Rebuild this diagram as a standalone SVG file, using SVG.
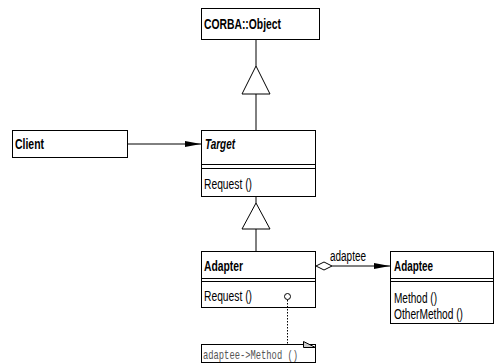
<svg xmlns="http://www.w3.org/2000/svg" width="494" height="364" viewBox="0 0 494 364">
<style>
.box{fill:#fff;stroke:#000;stroke-width:1}
.ln{fill:none;stroke:#000;stroke-width:1}
.t{font-family:"Liberation Sans",Arial,sans-serif;font-size:14px;fill:#000}
.b{font-weight:bold}
.i{font-style:italic}
.m{font-family:"Liberation Mono","Courier New",monospace;font-size:13px;fill:#555}
</style>
<defs>
<marker id="arr" viewBox="0 0 16 6" refX="16" refY="3" markerWidth="16" markerHeight="6" markerUnits="userSpaceOnUse" orient="auto">
<path d="M0,0 L16,3 L0,6 Z" fill="#000"/>
</marker>
</defs>
<rect width="494" height="364" fill="#fff"/>
<g id="corba">
<rect class="box" x="201.5" y="8.5" width="118" height="31"/>
<text class="t b" x="204" y="28.5" textLength="77" lengthAdjust="spacingAndGlyphs">CORBA::Object</text>
</g>
<g id="client">
<rect class="box" x="12.5" y="130.5" width="115" height="27"/>
<text class="t b" x="15" y="148.5" textLength="29" lengthAdjust="spacingAndGlyphs">Client</text>
</g>
<g id="target">
<rect class="box" x="201.5" y="130.5" width="114" height="66"/>
<path class="ln" d="M201.5,164.5 H315.5 M201.5,168.5 H315.5"/>
<text class="t b i" x="205" y="148.5" textLength="30" lengthAdjust="spacingAndGlyphs">Target</text>
<text class="t" x="204" y="188.5" textLength="48" lengthAdjust="spacingAndGlyphs">Request ()</text>
</g>
<g id="adapter">
<rect class="box" x="201.5" y="251.5" width="114" height="56"/>
<path class="ln" d="M201.5,278.5 H315.5 M201.5,281.5 H315.5"/>
<text class="t b" x="204" y="270.5" textLength="39" lengthAdjust="spacingAndGlyphs">Adapter</text>
<text class="t" x="204" y="300.5" textLength="48" lengthAdjust="spacingAndGlyphs">Request ()</text>
</g>
<g id="adaptee">
<rect class="box" x="390.5" y="251.5" width="103" height="72"/>
<path class="ln" d="M390.5,278.5 H493.5 M390.5,281.5 H493.5"/>
<text class="t b" x="394" y="270.5" textLength="39" lengthAdjust="spacingAndGlyphs">Adaptee</text>
<text class="t" x="394" y="302.5" textLength="43" lengthAdjust="spacingAndGlyphs">Method ()</text>
<text class="t" x="394" y="318.5" textLength="69" lengthAdjust="spacingAndGlyphs">OtherMethod ()</text>
</g>
<g id="note">
<rect class="box" x="201.5" y="344.5" width="114" height="18"/>
<path d="M303.5,341.5 L315.5,347.5 L303.5,347.5 Z" fill="#ccc" stroke="#000"/>
<text class="m" x="203" y="358.5" textLength="95" lengthAdjust="spacingAndGlyphs">adaptee-&gt;Method ()</text>
</g>
<g id="connectors">
<path class="ln" d="M256,40 V66"/>
<path class="box" d="M256,66 L270,94 L242,94 Z"/>
<path class="ln" d="M256,94 V130"/>
<path class="ln" d="M256,197 V203"/>
<path class="box" d="M256,203 L270,229 L242,229 Z"/>
<path class="ln" d="M256,229 V251"/>
<path class="ln" d="M128,144 H201" marker-end="url(#arr)"/>
<path class="ln" d="M332,266 H390" marker-end="url(#arr)"/>
<path class="box" d="M316,266 L324,262 L332,266 L324,270 Z"/>
<text class="t" x="330" y="261" textLength="36" lengthAdjust="spacingAndGlyphs">adaptee</text>
<path class="ln" d="M287.5,300 V344" stroke-dasharray="1.5,1.5"/>
<circle class="box" cx="287.5" cy="296.5" r="3"/>
</g>
</svg>
